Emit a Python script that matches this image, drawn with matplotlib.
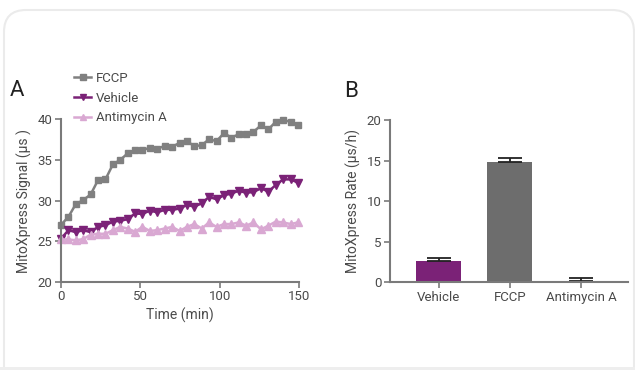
import numpy as np
import matplotlib
matplotlib.use("Agg")
import matplotlib.pyplot as plt
from matplotlib.patches import FancyBboxPatch, Rectangle

plt.rcParams['font.family'] = ['Roboto', 'DejaVu Sans']

# time course (panel A)
time_min = [0, 4.7, 9.3, 14, 18.7, 23.3, 28, 32.7, 37.3, 42, 46.7, 51.3, 56,
            60.7, 65.3, 70, 74.7, 79.3, 84, 88.7, 93.3, 98, 102.7, 107.3, 112,
            116.7, 121.3, 126, 130.7, 135.3, 140, 144.7, 149.3]
fccp = [27.0, 28.0, 29.55, 30.05, 30.75, 32.5, 32.6, 34.45, 35.0, 35.8, 36.2,
        36.2, 36.5, 36.4, 36.7, 36.6, 37.1, 37.3, 36.7, 36.8, 37.55, 37.3,
        38.3, 37.75, 38.15, 38.25, 38.45, 39.25, 38.75, 39.7, 39.9, 39.7, 39.35]
vehicle = [25.3, 26.35, 26.1, 26.35, 26.1, 26.75, 26.95, 27.4, 27.5, 27.7,
           28.4, 28.35, 28.75, 28.55, 28.85, 28.85, 29.0, 29.45, 29.25, 29.65,
           30.45, 30.15, 30.65, 30.85, 31.2, 30.95, 31.05, 31.5, 31.1, 31.9,
           32.6, 32.6, 32.2]
antimycin = [25.2, 25.2, 25.1, 25.25, 25.8, 25.9, 25.9, 26.35, 26.75, 26.55,
             26.15, 26.75, 26.25, 26.35, 26.55, 26.75, 26.25, 26.75, 27.1,
             26.55, 27.3, 26.75, 27.1, 27.1, 27.3, 26.9, 27.3, 26.45, 26.9,
             27.4, 27.3, 27.1, 27.3]

# rates (panel B)
groups = ['Vehicle', 'FCCP', 'Antimycin A']
rate = [2.63, 14.85, 0.15]
rate_err = [0.4, 0.45, 0.42]

c_fccp = '#808080'
c_veh = '#7b2277'
c_anti = '#d9a8d2'
txt = '#4a4a4a'
spine = '#7a7a7a'

fig = plt.figure(figsize=(6.35, 3.7), dpi=100, facecolor='white')

# card background (bottom corners run off the image)
fig.patches.append(FancyBboxPatch((4, -40), 630, 400, boxstyle='round,pad=0,rounding_size=22',
                                  transform=None, facecolor='white', edgecolor='#ebebeb',
                                  linewidth=1.5, zorder=-2))
fig.patches.append(Rectangle((0, 0), 635, 3.5, transform=None, facecolor='#eeeeee',
                             edgecolor='none', zorder=-1))


def style(ax):
    for s in ['top', 'right']:
        ax.spines[s].set_visible(False)
    for s in ['left', 'bottom']:
        ax.spines[s].set_color(spine)
        ax.spines[s].set_linewidth(1.5)
    ax.tick_params(colors=spine, labelcolor=txt, labelsize=9.5, width=1.2, length=4, pad=2)
    ax.patch.set_alpha(0)


axA = fig.add_axes([0.0961, 0.2386, 0.3748, 0.439])
axA.plot(time_min, fccp, color=c_fccp, marker='s', markersize=5, lw=1.8, label='FCCP', clip_on=False)
axA.plot(time_min, vehicle, color=c_veh, marker='v', markersize=5.5, lw=1.8, label='Vehicle', clip_on=False)
axA.plot(time_min, antimycin, color=c_anti, marker='^', markersize=5.5, lw=1.8, label='Antimycin A', clip_on=False)
axA.set_xlim(0, 150)
axA.set_ylim(20, 40)
axA.set_xticks([0, 50, 100, 150])
axA.set_yticks([20, 25, 30, 35, 40])
axA.set_xlabel('Time (min)', color=txt, fontsize=10, labelpad=3)
axA.set_ylabel('MitoXpress Signal (µs )', color=txt, fontsize=10, labelpad=4)
style(axA)
fig.legend(loc='upper left', bbox_to_anchor=(74 / 635, 1 - 72 / 370), frameon=False,
           fontsize=9.5, handlelength=1.3, handletextpad=0.35, labelspacing=0.5,
           borderpad=0, borderaxespad=0, labelcolor=txt, markerscale=0.75)

axB = fig.add_axes([0.6142, 0.237, 0.3743, 0.4387])
xpos = np.arange(len(groups))
axB.bar(xpos, rate, width=0.63, color=[c_veh, '#6d6d6d', '#333333'],
        yerr=[[0, 0, 0], rate_err], capsize=8.5, error_kw=dict(ecolor='#222222', elinewidth=1.3, capthick=1.3))
axB.set_xlim(-0.68, 2.65)
axB.set_ylim(0, 20)
axB.set_xticks(xpos)
axB.set_xticklabels(groups)
axB.set_yticks([0, 5, 10, 15, 20])
axB.set_ylabel('MitoXpress Rate (µs/h)', color=txt, fontsize=10, labelpad=4)
style(axB)

fig.text(10 / 635, 1 - 96 / 370, 'A', fontsize=16, color='#222222')
fig.text(344 / 635, 1 - 97 / 370, 'B', fontsize=16, color='#222222')

fig.savefig('out.png', dpi=100, facecolor='white')
